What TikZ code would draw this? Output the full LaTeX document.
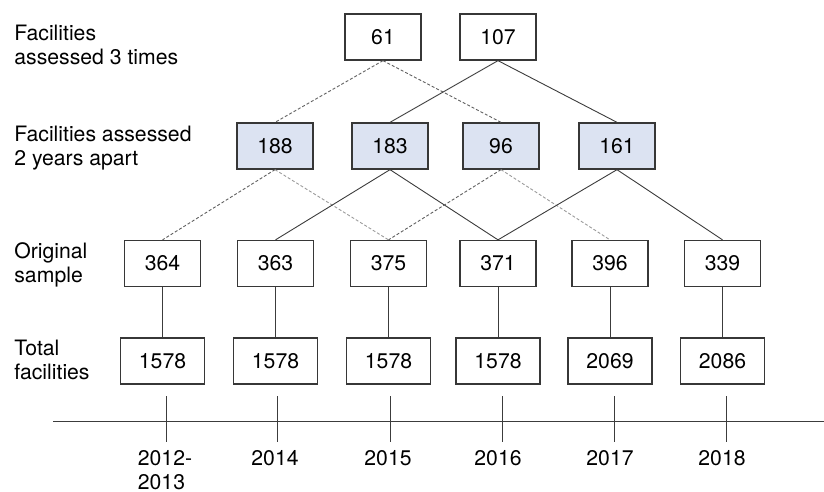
\documentclass[tikz,border=0pt]{standalone}
\usepackage{fontspec}
\setmainfont{TeX Gyre Heros}
\usetikzlibrary{positioning}
\definecolor{bxBorder}{RGB}{55,55,55}
\definecolor{bxBlue}{RGB}{220,227,242}
\definecolor{lnDark}{RGB}{60,60,60}
\definecolor{lnDash}{RGB}{95,95,95}
\definecolor{lnFaint}{RGB}{155,155,155}
\tikzset{
    base/.style={font=\fontsize{10.6}{12}\selectfont},
    countbox/.style={base, rectangle, draw=bxBorder, line width=0.65pt, fill=white,
                     inner sep=0pt, minimum width=38pt, minimum height=23pt},
    pairbox/.style={countbox, fill=bxBlue},
    totalbox/.style={countbox, minimum width=42pt},
    rowlabel/.style={base, anchor=north west, align=left, inner sep=0pt},
    yearlabel/.style={base, anchor=north, align=left, inner sep=0pt},
    link/.style={lnDark, line width=0.45pt},
    linkdash/.style={lnDash, line width=0.45pt, dash pattern=on 1.5pt off 1pt},
    linkfaint/.style={linkdash, lnFaint}
}

\begin{document}
\begin{tikzpicture}[x=0.5pt, y=-0.5pt]
  \useasboundingbox (0,0) rectangle (824,492);

  % Row labels
  \node[rowlabel] (lab3) at (14,24.7) {Facilities\\assessed 3 times};
  \node[rowlabel] (lab2) at (14,125.7) {Facilities assessed\\2 years apart};
  \node[rowlabel] (lab1) at (14,242.7) {Original\\sample};
  \node[rowlabel] (lab0) at (14,339.7) {Total\\facilities};

  % Assessed 3 times
  \node[countbox] (t1) at (383,37) {61};
  \node[countbox] (t2) at (498,37) {107};

  % Assessed 2 years apart
  \node[pairbox] (p1) at (275,146) {188};
  \node[pairbox] (p2) at (390,146) {183};
  \node[pairbox] (p3) at (501,146) {96};
  \node[pairbox] (p4) at (617,146) {161};

  % Original sample
  \node[countbox] (s1) at (162.5,263.5) {364};
  \node[countbox] (s2) at (275.5,263.5) {363};
  \node[countbox] (s3) at (388.5,263.5) {375};
  \node[countbox] (s4) at (498,263.5) {371};
  \node[countbox] (s5) at (610,263.5) {396};
  \node[countbox] (s6) at (722.5,263.5) {339};

  % Total facilities
  \node[totalbox] (f1) at (162.5,361) {1578};
  \node[totalbox] (f2) at (275.5,361) {1578};
  \node[totalbox] (f3) at (388.5,361) {1578};
  \node[totalbox] (f4) at (498,361) {1578};
  \node[totalbox] (f5) at (610,361) {2069};
  \node[totalbox] (f6) at (722.5,361) {2086};

  % Top links
  \draw[linkdash] (t1.south) -- (p1.north);
  \draw[linkdash] (t1.south) -- (p3.north);
  \draw[link] (t2.south) -- (p2.north);
  \draw[link] (t2.south) -- (p4.north);

  % Middle links
  \draw[linkdash] (p1.south) -- (s1.north);
  \draw[linkfaint] (p1.south) -- (s3.north);
  \draw[link] (p2.south) -- (s2.north);
  \draw[link] (p2.south) -- (s4.north);
  \draw[linkdash] (p3.south) -- (s3.north);
  \draw[linkfaint] (p3.south) -- (s5.north);
  \draw[link] (p4.south) -- (s4.north);
  \draw[link] (p4.south) -- (s6.north);

  % Sample to total
  \draw[link] (s1) -- (f1);
  \draw[link] (s2) -- (f2);
  \draw[link] (s3) -- (f3);
  \draw[link] (s4) -- (f4);
  \draw[link] (s5) -- (f5);
  \draw[link] (s6) -- (f6);

  % Time axis
  \coordinate (axL) at (53,421);
  \coordinate (axR) at (824,421);
  \draw[link] (axL) -- (axR);
  \foreach \x/\n in {166/1, 277/2, 390/3, 502/4, 614/5, 726/6} {
    \coordinate (tk\n a) at (\x,396);
    \coordinate (tk\n b) at (\x,442);
    \draw[link] (tk\n a) -- (tk\n b);
  }

  % Years
  \node[yearlabel] (y1) at (165,450.5) {2012-\\2013};
  \node[yearlabel] (y2) at (275,450.5) {2014};
  \node[yearlabel] (y3) at (388,450.5) {2015};
  \node[yearlabel] (y4) at (498,450.5) {2016};
  \node[yearlabel] (y5) at (610,450.5) {2017};
  \node[yearlabel] (y6) at (722,450.5) {2018};
\end{tikzpicture}
\end{document}
